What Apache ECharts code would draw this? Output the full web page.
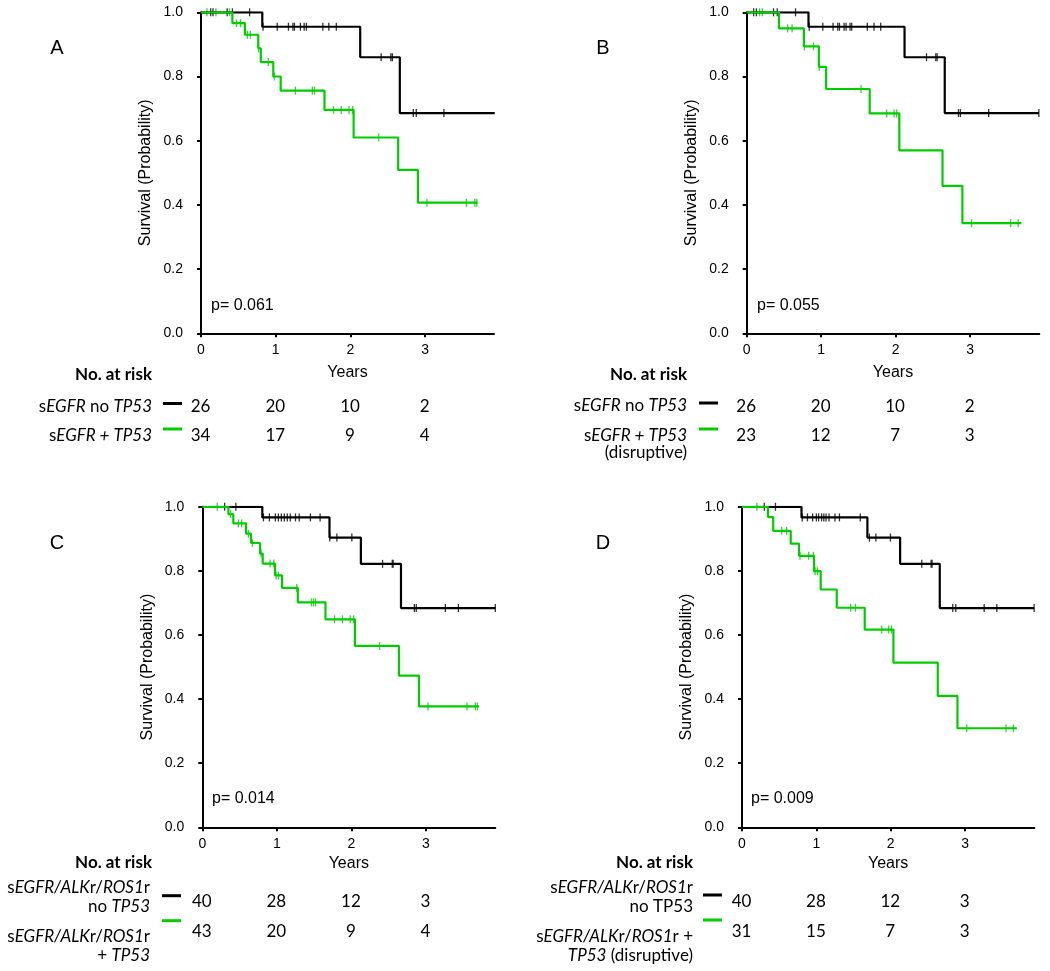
<!DOCTYPE html>
<html><head><meta charset="utf-8">
<script src="https://cdn.jsdelivr.net/npm/echarts@6/dist/echarts.min.js"></script>
<style>html,body{margin:0;padding:0;background:#fff}#c{width:1050px;height:971px}</style>
</head><body><div id="c"></div>
<script>
// ---------- DATA ----------
const yearTicks = [0, 1, 2, 3];
const panelLetters = ['A', 'B', 'C', 'D'];
const pValues = ['p= 0.061', 'p= 0.055', 'p= 0.014', 'p= 0.009'];

// Panel A
const aBlackT = [0, 0.82, 2.13, 2.66, 3.93];
const aBlackS = [1, 0.955, 0.86, 0.686, 0.686];
const aBlackC = [0.13, 0.16, 0.35, 0.42, 0.65, 0.83, 1.02, 1.17, 1.23, 1.25, 1.33, 1.38, 1.41, 1.63, 1.71, 1.81, 2.41, 2.54, 2.56, 2.84, 2.88, 3.25, 3.93];
const aGreenT = [0, 0.42, 0.587, 0.766, 0.80, 0.967, 1.066, 1.652, 2.042, 2.638, 2.902, 3.70];
const aGreenS = [1, 0.966, 0.930, 0.888, 0.845, 0.80, 0.756, 0.696, 0.610, 0.509, 0.407, 0.407];
const aGreenC = [0.08, 0.2, 0.38, 0.475, 0.53, 0.62, 0.66, 0.77, 0.90, 0.98, 1.263, 1.49, 1.518, 1.773, 1.876, 1.98, 2.03, 2.378, 3.023, 3.55, 3.663, 3.69];
const aRiskBlack = [26, 20, 10, 2];
const aRiskGreen = [34, 17, 9, 4];

// Panel B
const bBlackT = [0, 0.83, 2.12, 2.66, 3.924];
const bBlackS = [1, 0.955, 0.86, 0.686, 0.686];
const bBlackC = [0.094, 0.13, 0.36, 0.41, 0.656, 0.84, 1.022, 1.16, 1.223, 1.246, 1.308, 1.335, 1.388, 1.41, 1.62, 1.71, 1.80, 2.415, 2.54, 2.558, 2.844, 2.87, 3.25, 3.924];
const bGreenT = [0, 0.433, 0.768, 0.969, 1.067, 1.652, 2.05, 2.63, 2.897, 3.69];
const bGreenS = [1, 0.95, 0.894, 0.83, 0.761, 0.685, 0.570, 0.459, 0.343, 0.343];
const bGreenC = [0.174, 0.21, 0.55, 0.61, 0.775, 0.897, 0.975, 1.536, 1.88, 1.98, 2.013, 3.02, 3.545, 3.647];
const bRiskBlack = [26, 20, 10, 2];
const bRiskGreen = [23, 12, 7, 3];

// Panel C
const cBlackT = [0, 0.805, 1.706, 2.127, 2.665, 3.93];
const cBlackS = [1, 0.967, 0.904, 0.822, 0.684, 0.684];
const cBlackC = [0.3, 0.45, 0.82, 0.9, 0.98, 1.02, 1.06, 1.1, 1.14, 1.18, 1.25, 1.3, 1.45, 1.58, 1.71, 1.805, 2.006, 2.418, 2.548, 2.56, 2.844, 2.87, 3.26, 3.435, 3.93];
const cGreenT = [0, 0.35, 0.416, 0.587, 0.654, 0.775, 0.81, 0.976, 1.07, 1.281, 1.652, 2.047, 2.638, 2.906, 3.71];
const cGreenS = [1, 0.977, 0.948, 0.916, 0.887, 0.854, 0.823, 0.786, 0.747, 0.702, 0.649, 0.566, 0.473, 0.377, 0.377];
const cGreenC = [0.2, 0.38, 0.484, 0.528, 0.618, 0.672, 0.788, 0.909, 0.96, 0.99, 1.02, 1.267, 1.464, 1.491, 1.518, 1.773, 1.88, 1.984, 2.03, 2.378, 3.027, 3.55, 3.663, 3.69];
const cRiskBlack = [40, 28, 12, 3];
const cRiskGreen = [43, 20, 9, 4];

// Panel D
const dBlackT = [0, 0.80, 1.686, 2.126, 2.659, 3.928];
const dBlackS = [1, 0.967, 0.904, 0.822, 0.684, 0.684];
const dBlackC = [0.3, 0.45, 0.81, 0.88, 0.95, 1.0, 1.03, 1.07, 1.1, 1.13, 1.17, 1.25, 1.31, 1.59, 1.713, 1.80, 1.996, 2.417, 2.543, 2.556, 2.834, 2.874, 3.256, 3.426, 3.928];
const dGreenT = [0, 0.35, 0.42, 0.655, 0.767, 0.969, 1.058, 1.274, 1.65, 2.036, 2.632, 2.897, 3.695];
const dGreenS = [1, 0.968, 0.925, 0.885, 0.847, 0.799, 0.742, 0.685, 0.617, 0.514, 0.410, 0.309, 0.309];
const dGreenC = [0.2, 0.534, 0.60, 0.78, 0.897, 0.96, 0.982, 1.013, 1.462, 1.525, 1.879, 1.973, 2.009, 3.022, 3.55, 3.65];
const dRiskBlack = [40, 28, 12, 3];
const dRiskGreen = [31, 15, 7, 3];

// Risk-table row labels (rich text: n = normal, i = italic)
const aLabels = [['{n|s}{i|EGFR}{n| no }{i|TP53}'], ['{n|s}{i|EGFR + TP53}']];
const bLabels = [['{n|s}{i|EGFR}{n| no }{i|TP53}'], ['{n|s}{i|EGFR + TP53}', '{n|(disruptive)}']];
const cLabels = [['{n|s}{i|EGFR/ALK}{n|r/}{i|ROS1}{n|r}', '{n|no }{i|TP53}'], ['{n|s}{i|EGFR/ALK}{n|r/}{i|ROS1}{n|r}', '{n|+ }{i|TP53}']];
const dLabels = [['{n|s}{i|EGFR/ALK}{n|r/}{i|ROS1}{n|r}', '{n|no TP53}'], ['{n|s}{i|EGFR/ALK}{n|r/}{i|ROS1}{n|r +}', '{i|TP53}{n| (disruptive)}']];

// ---------- LAYOUT ----------
const GREEN = '#00cc00';
const AX_FONT = 'Liberation Sans, Arial, sans-serif';
const TBL_FONT = 'Lato, sans-serif';
const TBL_SIZE = 17;
const NAME_SIZE = 16;
const layout = [
  {left: 201, top: 12.3, width: 293, height: 321, xmax: 3.92, nameGap: 31, riskTop: 407, riskH: 29,
   letter: [57, 48], p: [211, 306], hdr: [152, 375], lblX: 152, lines: [163, 182, 403.5, 429],
   rows: [[407], [436]]},
  {left: 746.7, top: 12.3, width: 292.6, height: 321, xmax: 3.93, nameGap: 31, riskTop: 407, riskH: 29,
   letter: [603, 48], p: [757, 306], hdr: [687, 375], lblX: 687, lines: [699, 718, 403, 429],
   rows: [[406], [436, 453]]},
  {left: 202.3, top: 506.8, width: 293, height: 320.5, xmax: 3.93, nameGap: 28, riskTop: 902, riskH: 29.7,
   letter: [57, 543], p: [212, 799], hdr: [152, 863], lblX: 150, lines: [162, 181, 895.7, 920.7],
   rows: [[888, 907], [937, 956]]},
  {left: 742, top: 506.8, width: 292.3, height: 320.5, xmax: 3.93, nameGap: 28, riskTop: 902, riskH: 29.7,
   letter: [603, 543], p: [751, 799], hdr: [693, 863], lblX: 693, lines: [703, 722, 895, 920],
   rows: [[888, 907], [937, 956]]}
];
const panels = [
  {bt: aBlackT, bs: aBlackS, bc: aBlackC, gt: aGreenT, gs: aGreenS, gc: aGreenC, rb: aRiskBlack, rg: aRiskGreen, labels: aLabels},
  {bt: bBlackT, bs: bBlackS, bc: bBlackC, gt: bGreenT, gs: bGreenS, gc: bGreenC, rb: bRiskBlack, rg: bRiskGreen, labels: bLabels},
  {bt: cBlackT, bs: cBlackS, bc: cBlackC, gt: cGreenT, gs: cGreenS, gc: cGreenC, rb: cRiskBlack, rg: cRiskGreen, labels: cLabels},
  {bt: dBlackT, bs: dBlackS, bc: dBlackC, gt: dGreenT, gs: dGreenS, gc: dGreenC, rb: dRiskBlack, rg: dRiskGreen, labels: dLabels}
];

function levelAt(T, S, t) {
  let v = S[0];
  for (let i = 0; i < T.length; i++) if (T[i] <= t + 1e-9) v = S[i];
  return v;
}

const grid = new Array(8), xAxis = new Array(8), yAxis = new Array(8), series = [], graphic = [];

panels.forEach((p, k) => {
  const L = layout[k];
  grid[k] = {left: L.left, top: L.top, width: L.width, height: L.height};
  xAxis[k] = {
    gridIndex: k, type: 'value', min: 0, max: L.xmax, interval: 1,
    axisLine: {show: true, lineStyle: {color: '#000', width: 2}},
    axisTick: {show: true, customValues: yearTicks, length: 4, lineStyle: {color: '#000', width: 2}},
    axisLabel: {customValues: yearTicks, margin: 10, fontSize: 14, color: '#000', fontFamily: AX_FONT},
    splitLine: {show: false},
    name: 'Years', nameLocation: 'middle', nameGap: L.nameGap,
    nameTextStyle: {fontSize: NAME_SIZE, color: '#000', fontFamily: AX_FONT}
  };
  yAxis[k] = {
    gridIndex: k, type: 'value', min: 0, max: 1, interval: 0.2,
    axisLine: {show: true, lineStyle: {color: '#000', width: 2}},
    axisTick: {show: true, length: 4, lineStyle: {color: '#000', width: 2}},
    axisLabel: {margin: 18, fontSize: 14, color: '#000', fontFamily: AX_FONT, formatter: v => v.toFixed(1)},
    splitLine: {show: false},
    name: 'Survival (Probability)', nameLocation: 'middle', nameGap: 47, nameRotate: 90,
    nameTextStyle: {fontSize: NAME_SIZE, color: '#000', fontFamily: AX_FONT}
  };
  const curves = [
    {T: p.bt, S: p.bs, C: p.bc, color: '#000'},
    {T: p.gt, S: p.gs, C: p.gc, color: GREEN}
  ];
  curves.forEach(c => {
    series.push({
      type: 'line', xAxisIndex: k, yAxisIndex: k, step: 'end', showSymbol: false, symbol: 'none',
      data: c.T.map((t, i) => [t, c.S[i]]),
      lineStyle: {color: c.color, width: 2.2}, silent: true, animation: false
    });
  });
  curves.forEach(c => {
    series.push({
      type: 'scatter', xAxisIndex: k, yAxisIndex: k, symbol: 'rect', symbolSize: [1.3, 8],
      data: c.C.map(t => [t, levelAt(c.T, c.S, t)]),
      itemStyle: {color: c.color}, silent: true, animation: false
    });
  });
  // risk-table grid (shares the x scale)
  const rk = 4 + k;
  grid[rk] = {left: L.left, top: L.riskTop, width: L.width, height: L.riskH};
  xAxis[rk] = {gridIndex: rk, type: 'value', min: 0, max: L.xmax, show: false};
  yAxis[rk] = {gridIndex: rk, type: 'value', min: 0, max: 1, show: false};
  [[p.rb, 1], [p.rg, 0]].forEach(([vals, row]) => {
    series.push({
      type: 'scatter', xAxisIndex: rk, yAxisIndex: rk, symbolSize: 1,
      itemStyle: {color: '#fff', opacity: 0}, silent: true, animation: false,
      data: yearTicks.map((y, i) => [y, row, vals[i]]),
      label: {show: true, position: [0, 0], align: 'center', verticalAlign: 'middle',
              formatter: q => String(q.value[2]), opacity: 1,
              fontSize: TBL_SIZE, color: '#000', textBorderWidth: 0, fontFamily: TBL_FONT}
    });
  });
  // texts
  graphic.push({type: 'text', x: L.letter[0], y: L.letter[1],
    style: {text: panelLetters[k], fontSize: 20, fontFamily: AX_FONT, fill: '#000', align: 'center', verticalAlign: 'middle'}});
  graphic.push({type: 'text', x: L.p[0], y: L.p[1],
    style: {text: pValues[k], fontSize: NAME_SIZE, fontFamily: AX_FONT, fill: '#000', align: 'left', verticalAlign: 'middle'}});
  graphic.push({type: 'text', x: L.hdr[0], y: L.hdr[1],
    style: {text: 'No. at risk', fontSize: TBL_SIZE, fontWeight: 'bold', fontFamily: TBL_FONT, fill: '#000', align: 'right', verticalAlign: 'middle'}});
  p.labels.forEach((lines, r) => {
    lines.forEach((txt, j) => {
      graphic.push({type: 'text', x: L.lblX, y: L.rows[r][j],
        style: {text: txt, fontSize: TBL_SIZE, fontFamily: TBL_FONT, fill: '#000', align: 'right', verticalAlign: 'middle',
          rich: {n: {fontSize: TBL_SIZE, fontFamily: TBL_FONT, fill: '#000'},
                 i: {fontSize: TBL_SIZE, fontFamily: TBL_FONT, fontStyle: 'italic', fill: '#000'}}}});
    });
  });
  graphic.push({type: 'line', shape: {x1: L.lines[0], y1: L.lines[2], x2: L.lines[1], y2: L.lines[2]},
    style: {stroke: '#000', lineWidth: 3}});
  graphic.push({type: 'line', shape: {x1: L.lines[0], y1: L.lines[3], x2: L.lines[1], y2: L.lines[3]},
    style: {stroke: GREEN, lineWidth: 3}});
});

const chart = echarts.init(document.getElementById('c'), null, {renderer: 'canvas'});
chart.setOption({animation: false, backgroundColor: '#fff', grid, xAxis, yAxis, series, graphic});
</script></body></html>
